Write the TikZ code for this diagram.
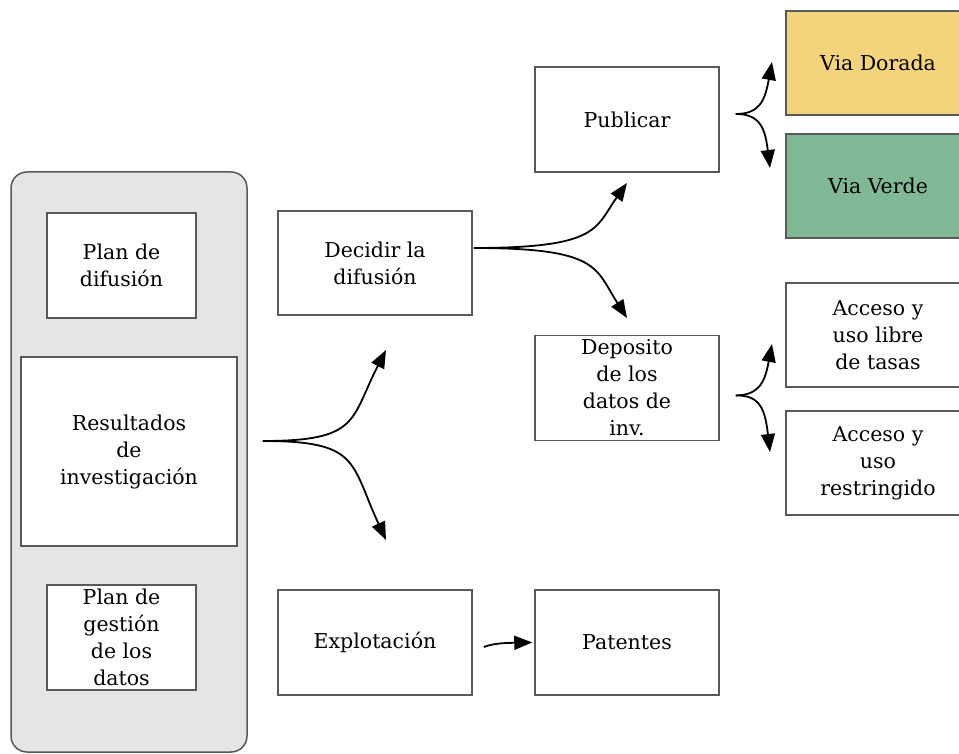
\documentclass[tikz,border=0pt]{standalone}
\usepackage{fontspec}
\setmainfont{DejaVu Serif}
\usetikzlibrary{arrows.meta}
\definecolor{dorada}{HTML}{F3D37B}
\definecolor{verde}{HTML}{80B896}
\definecolor{fondo}{HTML}{E5E5E5}
\definecolor{borde}{HTML}{595959}
\tikzset{
	caja/.style={draw=borde, line width=1.5pt, fill=white, align=center, inner sep=0pt,
		font=\fontsize{20.5}{27}\selectfont},
	flecha/.style={-{Triangle[length=18pt,width=14pt]}, line width=1.8pt}
}
\begin{document}
\begin{tikzpicture}[x=1pt,y=-1pt]
		\useasboundingbox (0,0) rectangle (959,754);
		\clip (0,0) rectangle (959,754);
		% bloque de la izquierda
		\node[draw=borde, line width=1.5pt, fill=fondo, rounded corners=16pt,
			minimum width=236pt, minimum height=580pt] (grupo) at (129,462) {};
		\node[caja, minimum width=149pt, minimum height=105pt] (pdif) at (121.5,265.5) {Plan de\\difusión};
		\node[caja, minimum width=216pt, minimum height=189pt] (res) at (129,451.5) {Resultados\\de\\investigación};
		\node[caja, minimum width=149pt, minimum height=105pt] (pgest) at (121.5,637.5) {Plan de\\gestión\\de los\\datos};
		
		\node[caja, minimum width=194pt, minimum height=104pt] (dec) at (375,263) {Decidir la\\difusión};
		\node[caja, minimum width=194pt, minimum height=105pt] (expl) at (375,642.5) {Explotación};
		\foreach \n/\y/\t in {pub/119.5/Publicar, dep/388/Deposito\\de los\\datos de\\inv., pat/642.5/Patentes}{
			\node[caja, minimum width=184pt, minimum height=105pt] (\n) at (627,\y) {\t};
		}
		\node[caja, fill=dorada, minimum width=184pt, minimum height=104pt] (dorada) at (878,63) {Via Dorada};
		\node[caja, fill=verde, minimum width=184pt, minimum height=104pt] (verde) at (878,186) {Via Verde};
		\node[caja, minimum width=184pt, minimum height=104pt] (libre) at (878,335) {Acceso y\\uso libre\\de tasas};
		\node[caja, minimum width=184pt, minimum height=104pt] (restr) at (878,463) {Acceso y\\uso\\restringido};
		
		% bifurcaciones
		\coordinate (rs) at ([xshift=25pt,yshift=10.5pt]res.east);
		\coordinate (ra) at (386,350);
		\coordinate (rb) at (386,540);
		\draw[flecha] (rs) .. controls (360,441) and (350,420) .. (ra);
		\draw[flecha] (rs) .. controls (360,441) and (350,462) .. (rb);
		
		\coordinate (ds) at ([xshift=1pt,yshift=15pt]dec.east);
		\coordinate (da) at (627,183);
		\coordinate (db) at (627,318);
		\draw[flecha] (ds) .. controls (600,248) and (595,228) .. (da);
		\draw[flecha] (ds) .. controls (600,248) and (595,268) .. (db);
		
		\coordinate (ps) at ([xshift=16pt,yshift=5.5pt]pub.east);
		\coordinate (pa) at (772,62);
		\coordinate (pb) at (770,168);
		\draw[flecha] (ps) .. controls (760,114) and (765,100) .. (pa);
		\draw[flecha] (ps) .. controls (760,114) and (765,128) .. (pb);
		
		\coordinate (qs) at ([xshift=16pt,yshift=-7.5pt]dep.east);
		\coordinate (qa) at (772,344);
		\coordinate (qb) at (770,452);
		\draw[flecha] (qs) .. controls (760,395) and (765,381) .. (qa);
		\draw[flecha] (qs) .. controls (760,395) and (765,409) .. (qb);
		
		\draw[flecha] ([xshift=11pt,yshift=-4.5pt]expl.east) .. controls (492,644) and (500,643) .. ([xshift=-2pt]pat.west);
\end{tikzpicture}
\end{document}
